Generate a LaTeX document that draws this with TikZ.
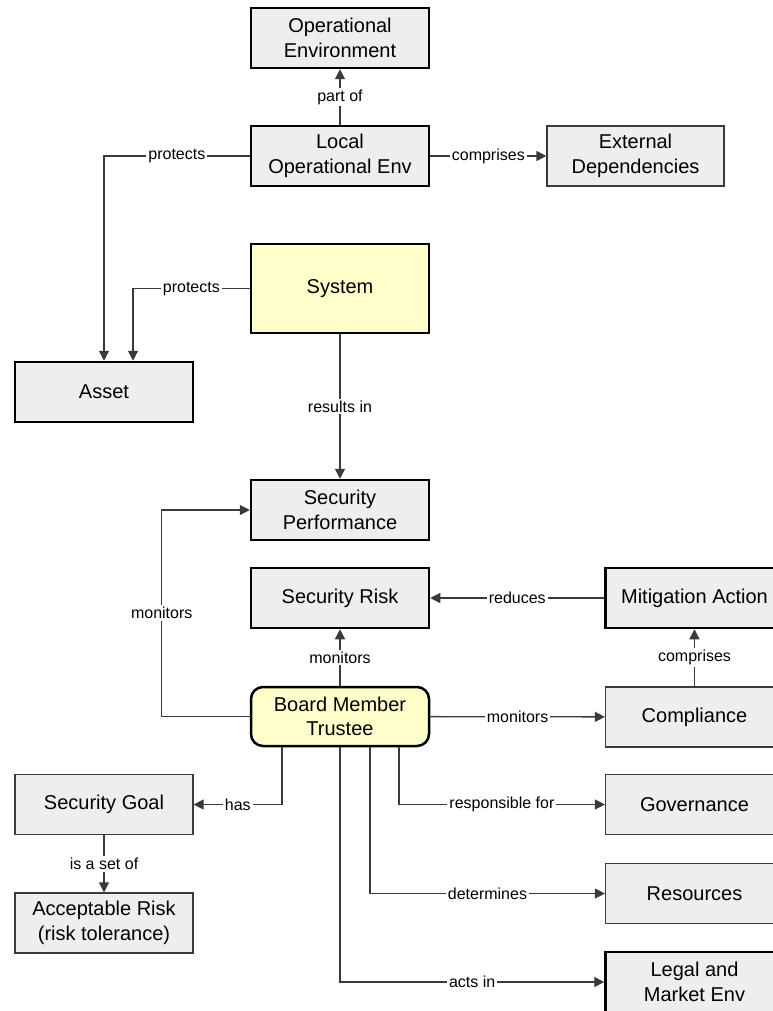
\documentclass[tikz,border=0pt]{standalone}
\usepackage{fontspec}
\setmainfont{Liberation Sans}
\usetikzlibrary{arrows.meta}
\definecolor{boxgray}{HTML}{EEEEEE}
\definecolor{boxyellow}{HTML}{FFFFCC}
\definecolor{linegray}{HTML}{3A3A3A}
\begin{document}
\begin{tikzpicture}[x=1pt, y=-1pt,
  nodefont/.style={font=\fontsize{20}{24.5}\selectfont},
  concept/.style={rectangle, nodefont, align=center, fill=boxgray,
    minimum width=178pt, minimum height=60pt, inner sep=0pt},
  thickbox/.style={concept, draw=black, line width=2.5pt},
  thinbox/.style={concept, draw=linegray, line width=1.2pt},
  keybox/.style={thickbox, fill=boxyellow},
  link/.style={draw=linegray, line width=1.3pt,
    -{Triangle[length=10pt, width=10pt]}},
  lbl/.style={fill=white, inner sep=2pt, text=black,
    font=\fontsize{16}{19}\selectfont}
]
\useasboundingbox (0,0) rectangle (772,1011);

% concepts
\node[thickbox] (openv)   at (340,38)    {Operational\\Environment};
\node[thickbox] (localenv) at (340,156)  {Local\\Operational Env};
\node[thinbox, minimum width=177pt] (extdep) at (635.5,156) {External\\Dependencies};
\node[keybox, minimum height=89pt] (system) at (340,288.5) {System};
\node[thickbox] (asset)   at (104,392)   {Asset};
\node[thickbox] (secperf) at (340,510)   {Security\\Performance};
\node[thickbox] (secrisk) at (340,598)   {Security Risk};
\node[thickbox] (mitig)   at (694.5,598) {Mitigation Action};
\node[thinbox]  (compl)   at (694.5,717) {Compliance};
\node[keybox, rounded corners=12pt, minimum height=59pt] (board) at (340,716.5) {Board Member\\Trustee};
\node[thinbox]  (goal)    at (104,804.5) {Security Goal};
\node[thinbox]  (accrisk) at (104,923)   {Acceptable Risk\\(risk tolerance)};
\node[thinbox]  (gov)     at (694.5,804.5) {Governance};
\node[thinbox]  (res)     at (694.5,893.5) {Resources};
\node[thickbox] (legal)   at (694.5,982) {Legal and\\Market Env};

% relations
\draw[link] (localenv) -- node[lbl] {part of} (openv);
\draw[link] (localenv) -- node[lbl] {comprises} (extdep);
\draw[link] (localenv.west) -| node[lbl, pos=0.25] {protects} (asset.north);
\draw[link] (system.west) -| node[lbl, pos=0.25] {protects} ([xshift=29pt]asset.north);
\draw[link] (system) -- node[lbl] {results in} (secperf);
\draw[link] (board.west) -- ++(-88,0) |- node[lbl, pos=0.25] {monitors} (secperf.west);
\draw[link] (board) -- node[lbl] {monitors} (secrisk);
\draw[link] (mitig) -- node[lbl] {reduces} (secrisk);
\draw[link] (compl) -- node[lbl] {comprises} (mitig);
\draw[link] (board) -- node[lbl] {monitors} (compl);
\draw[link] ([xshift=-58pt]board.south) |- node[lbl, pos=0.75] {has} (goal.east);
\draw[link] ([xshift=59pt]board.south) |- node[lbl, pos=0.75] {responsible for} (gov.west);
\draw[link] ([xshift=30pt]board.south) |- node[lbl, pos=0.75] {determines} (res.west);
\draw[link] (board.south) |- node[lbl, pos=0.75] {acts in} (legal.west);
\draw[link] (goal) -- node[lbl] {is a set of} (accrisk);
\end{tikzpicture}
\end{document}
